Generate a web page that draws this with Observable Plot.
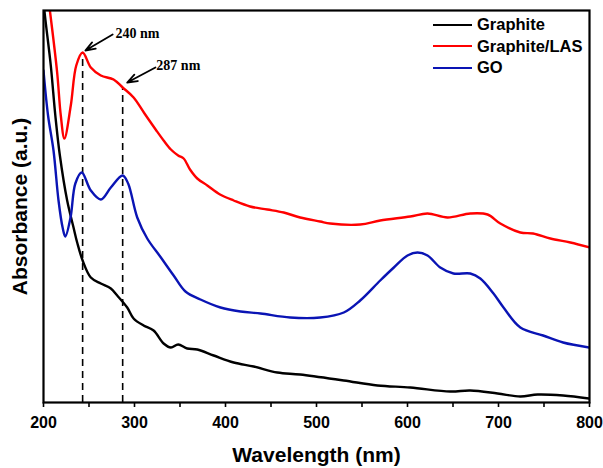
<!DOCTYPE html>
<html>
<head>
<meta charset="utf-8">
<script src="https://cdn.jsdelivr.net/npm/d3@7"></script>
<script src="https://cdn.jsdelivr.net/npm/@observablehq/plot@0.6"></script>
<style>
  body { margin: 0; background: #fff; }
  #wrap { position: relative; width: 603px; height: 468px; }
  #legend { position: absolute; left: 433px; top: 14px; font-family: "Liberation Sans", Arial, sans-serif; font-weight: bold; font-size: 16.5px; color: #000; }
  #legend .row { display: flex; align-items: center; height: 21.5px; }
  #legend .sw { width: 39px; height: 0; border-top: 2.6px solid; margin-right: 5px; }
</style>
</head>
<body>
<div id="wrap"></div>
<script>
// Graphite
const graphiteWl  = [200,201,208,213,218,226,233,237,243,252,263,274,281,292,299,310,321,332,340,348,358,369,387,409,431,457,482,530,567,603,647,669,699,724,743,771,800];
const graphiteAbs = [4.05,3.92,3.37,2.87,2.47,2.02,1.75,1.60,1.42,1.25,1.19,1.14,1.07,0.95,0.84,0.77,0.72,0.59,0.55,0.58,0.54,0.53,0.47,0.40,0.36,0.30,0.28,0.22,0.17,0.15,0.11,0.12,0.09,0.06,0.08,0.07,0.04];
// Graphite/LAS
const lasWl  = [200,207,215,219,223,230,236,243,252,263,277,287,299,311,324,332,340,348,354,361,369,380,394,409,427,446,464,482,504,515,548,570,603,622,644,669,688,702,724,738,757,779,800];
const lasAbs = [4.4,3.92,3.30,2.87,2.64,2.97,3.37,3.50,3.35,3.27,3.23,3.15,3.05,2.89,2.72,2.62,2.53,2.47,2.44,2.33,2.24,2.17,2.08,2.02,1.96,1.93,1.90,1.85,1.81,1.79,1.78,1.82,1.86,1.89,1.85,1.89,1.88,1.79,1.70,1.69,1.64,1.60,1.55];
// GO
const goWl  = [200,205,211,216.5,221,224,229.7,235,242,252,263,274,287,293,303,314,329,343,356,372.5,394.5,416.5,438.5,471,504,530,548,570,585,600,611,622,636,650.5,669,680,694.5,705.5,724,749,771,800];
const goAbs = [3.32,2.87,2.52,2.02,1.75,1.66,1.85,2.19,2.30,2.12,2.03,2.15,2.27,2.19,1.85,1.64,1.45,1.27,1.11,1.03,0.95,0.91,0.89,0.85,0.85,0.90,1.02,1.22,1.35,1.47,1.50,1.47,1.35,1.29,1.29,1.24,1.09,0.95,0.75,0.67,0.60,0.55];

const seriesNames  = ["Graphite", "Graphite/LAS", "GO"];
const seriesColors = ["#000000", "#ff0000", "#0a14b4"];

const majorTicks = [200, 300, 400, 500, 600, 700, 800];
const minorTicks = [250, 350, 450, 550, 650, 750];

// annotations
const peakWl     = [243, 287];
const peakTop    = [3.50, 3.15];
const peakLabels = ["240 nm", "287 nm"];
const arrowFromWl  = [276, 323];
const arrowFromAbs = [3.68, 3.35];
const arrowToWl    = [246, 292];
const arrowToAbs   = [3.52, 3.20];
const labelWl  = [279, 324];
const labelAbs = [3.69, 3.37];

const mk = (wl, ab, name) => wl.map((w, i) => ({wl: w, abs: ab[i], name}));
const data = [
  ...mk(graphiteWl, graphiteAbs, seriesNames[0]),
  ...mk(lasWl, lasAbs, seriesNames[1]),
  ...mk(goWl, goAbs, seriesNames[2])
];
const peaks = peakWl.map((w, i) => ({wl: w, top: peakTop[i]}));
const arrows = arrowFromWl.map((w, i) => ({x1: w, y1: arrowFromAbs[i], x2: arrowToWl[i], y2: arrowToAbs[i]}));
const labels = labelWl.map((w, i) => ({wl: w, abs: labelAbs[i], text: peakLabels[i]}));

const sans = "'Liberation Sans', Arial, sans-serif";

const chart = Plot.plot({
  width: 603,
  height: 468,
  marginLeft: 43,
  marginRight: 14,
  marginTop: 10,
  marginBottom: 66,
  style: {fontFamily: sans, background: "#fff", overflow: "visible"},
  x: {domain: [200, 800], label: null},
  y: {domain: [0, 3.92], axis: null},
  color: {domain: seriesNames, range: seriesColors},
  marks: [
    Plot.ruleX(peaks, {x: "wl", y1: 0, y2: "top", stroke: "#000", strokeWidth: 1.6, strokeDasharray: "7,5"}),
    Plot.line(data, {x: "wl", y: "abs", z: "name", stroke: "name", strokeWidth: 2.4, curve: "catmull-rom", clip: true}),
    Plot.arrow(arrows, {x1: "x1", y1: "y1", x2: "x2", y2: "y2", stroke: "#000", strokeWidth: 1.8, headLength: 9, headAngle: 40, insetStart: 0, insetEnd: 0}),
    Plot.text(labels, {x: "wl", y: "abs", text: "text", textAnchor: "start", fontFamily: "'Liberation Serif', 'Times New Roman', serif", fontWeight: "bold", fontSize: 14, fill: "#000"}),
    Plot.axisX({ticks: minorTicks, tickSize: 5, tickFormat: () => "", strokeWidth: 1.6, label: null}),
    Plot.axisX({ticks: majorTicks, tickSize: 5, tickPadding: 9, tickFormat: d => String(d), fontSize: 16, fontWeight: "bold", strokeWidth: 1.6, label: null}),
    Plot.text(["Wavelength (nm)"], {frameAnchor: "bottom", textAnchor: "middle", lineAnchor: "middle", dy: 53, fontSize: 21, fontWeight: "bold", fill: "#000"}),
    Plot.text(["Absorbance (a.u.)"], {frameAnchor: "left", textAnchor: "middle", lineAnchor: "middle", rotate: -90, dx: -23, fontSize: 21, fontWeight: "bold", fill: "#000"}),
    Plot.frame({stroke: "#000", strokeWidth: 2.2})
  ]
});

const wrap = document.getElementById("wrap");
wrap.appendChild(chart);

const legend = document.createElement("div");
legend.id = "legend";
seriesNames.forEach((n, i) => {
  const row = document.createElement("div");
  row.className = "row";
  const sw = document.createElement("span");
  sw.className = "sw";
  sw.style.borderTopColor = seriesColors[i];
  const t = document.createElement("span");
  t.textContent = n;
  row.appendChild(sw);
  row.appendChild(t);
  legend.appendChild(row);
});
wrap.appendChild(legend);
</script>
</body>
</html>
